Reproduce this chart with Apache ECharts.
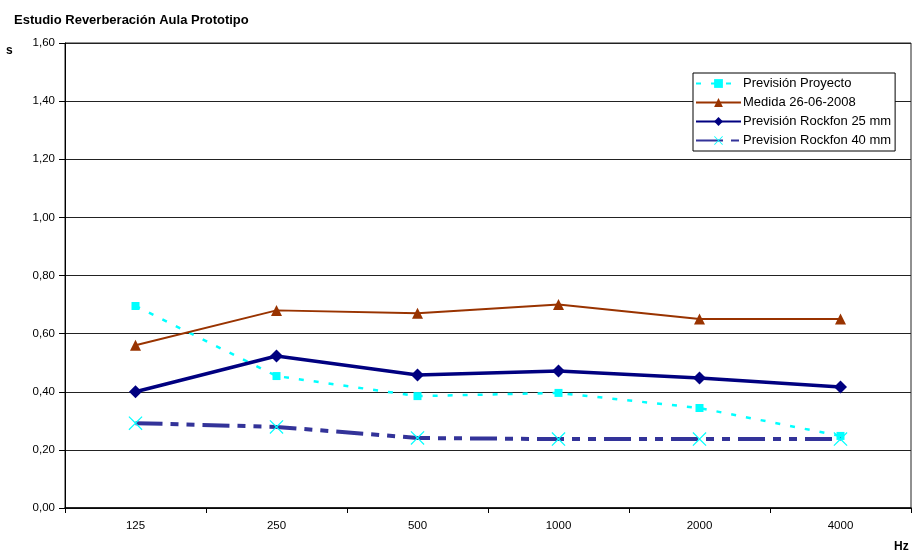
<!DOCTYPE html>
<html>
<head>
<meta charset="utf-8">
<script src="https://cdn.jsdelivr.net/npm/echarts@6/dist/echarts.min.js"></script>
<style>
  html, body { margin: 0; padding: 0; background: #fff; }
  #chart { width: 912px; height: 559px; }
</style>
</head>
<body>
<div id="chart"></div>
<script>
// Frequency bands (Hz)
const categories = ['125', '250', '500', '1000', '2000', '4000'];

// Reverberation time (s) per band
const prevProyecto = [0.695, 0.454, 0.385, 0.396, 0.344, 0.248];
const medida = [0.56, 0.68, 0.67, 0.70, 0.65, 0.65];
const rockfon25 = [0.40, 0.523, 0.458, 0.471, 0.447, 0.416];
const rockfon40 = [0.292, 0.279, 0.241, 0.237, 0.237, 0.237];

const seriesNames = [
  'Previsión Proyecto',
  'Medida 26-06-2008',
  'Previsión Rockfon 25 mm',
  'Prevision Rockfon 40 mm'
];

const FONT = 'Liberation Sans, Arial, sans-serif';
const CROSS = 'path://M0,0.6 L0.6,0 L5,4.4 L9.4,0 L10,0.6 L5.6,5 L10,9.4 L9.4,10 L5,5.6 L0.6,10 L0,9.4 L4.4,5 Z';

const chart = echarts.init(document.getElementById('chart'), null, { renderer: 'canvas' });

chart.setOption({
  animation: false,
  backgroundColor: '#fff',
  title: {
    text: 'Estudio Reverberación Aula Prototipo',
    left: 9,
    top: 9,
    textStyle: { fontFamily: FONT, fontSize: 13, fontWeight: 'bold', color: '#000' }
  },
  graphic: [
    { type: 'text', left: 6, top: 45, style: { text: 's', font: 'bold 12px ' + FONT, fill: '#000' } },
    { type: 'text', left: 894, top: 541, style: { text: 'Hz', font: 'bold 12px ' + FONT, fill: '#000' } }
  ],
  legend: {
    orient: 'vertical',
    left: 693,
    top: 73,
    padding: [3, 4, 3, 2],
    itemGap: 4,
    itemWidth: 45,
    itemHeight: 11,
    borderColor: '#000',
    borderWidth: 1,
    backgroundColor: '#fff',
    textStyle: { fontFamily: FONT, fontSize: 13, lineHeight: 15, color: '#000', padding: [0, 0, 0, -3] },
    data: seriesNames
  },
  grid: {
    left: 65,
    right: 1,
    top: 43,
    bottom: 51,
    show: true,
    borderColor: '#222',
    borderWidth: 1
  },
  xAxis: {
    type: 'category',
    data: categories,
    boundaryGap: true,
    axisLine: { lineStyle: { color: '#000', width: 1.5 } },
    axisTick: { show: true, length: 5, alignWithLabel: false, lineStyle: { color: '#000' } },
    axisLabel: { margin: 12, fontFamily: FONT, fontSize: 11.5, color: '#000' },
    splitLine: { show: false }
  },
  yAxis: {
    type: 'value',
    min: 0,
    max: 1.6,
    interval: 0.2,
    axisLine: { show: true, lineStyle: { color: '#000', width: 1 } },
    axisTick: { show: true, length: 6, lineStyle: { color: '#000' } },
    axisLabel: {
      margin: 10,
      fontFamily: FONT,
      fontSize: 11.5,
      color: '#000',
      formatter: v => v.toFixed(2).replace('.', ',')
    },
    splitLine: { show: true, lineStyle: { color: '#222', width: 1 } }
  },
  series: [
    {
      name: seriesNames[0],
      type: 'line',
      data: prevProyecto,
      symbol: 'rect',
      symbolSize: 8,
      itemStyle: { color: '#00FFFF' },
      lineStyle: { color: '#00FFFF', width: 2.5, type: [5, 10] },
      z: 2
    },
    {
      name: seriesNames[1],
      type: 'line',
      data: medida,
      symbol: 'triangle',
      symbolSize: 11,
      itemStyle: { color: '#993300' },
      lineStyle: { color: '#993300', width: 2 },
      z: 3
    },
    {
      name: seriesNames[2],
      type: 'line',
      data: rockfon25,
      symbol: 'diamond',
      symbolSize: 13,
      itemStyle: { color: '#000080' },
      lineStyle: { color: '#000080', width: 3.5 },
      z: 4
    },
    {
      name: seriesNames[3],
      type: 'line',
      data: rockfon40,
      symbol: CROSS,
      symbolSize: 14,
      itemStyle: { color: '#00FFFF' },
      lineStyle: { color: '#333399', width: 4, type: [27, 8, 8, 8, 8, 8] },
      z: 3
    }
  ]
});
</script>
</body>
</html>
